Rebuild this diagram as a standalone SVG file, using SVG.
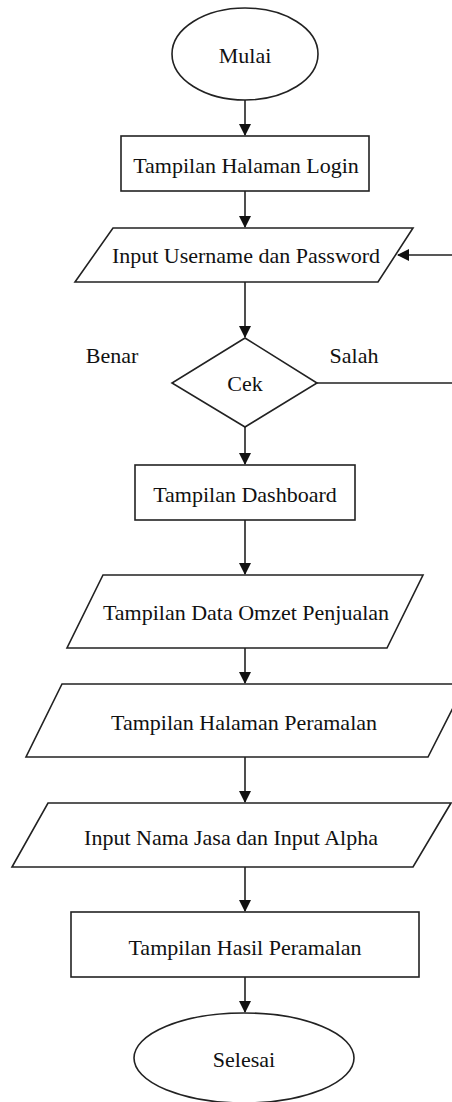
<svg xmlns="http://www.w3.org/2000/svg" width="452" height="1102" viewBox="0 0 452 1102">
<style>
.s{fill:#fff;stroke:#222;stroke-width:1.6}
.t{font-family:"Liberation Serif","Times New Roman","DejaVu Serif",serif;font-size:22px;fill:#111;text-anchor:middle}
.c{fill:none;stroke:#222;stroke-width:1.6}
</style>
<defs>
<marker id="ah" viewBox="0 0 12 12" refX="11" refY="6" markerWidth="12" markerHeight="12" markerUnits="userSpaceOnUse" orient="auto">
<path d="M0,0 L12,6 L0,12 z" fill="#111"/>
</marker>
</defs>
<rect width="452" height="1102" fill="#fff"/>
<g id="connectors">
<line class="c" x1="245" y1="100" x2="245" y2="135" marker-end="url(#ah)"/>
<line class="c" x1="245" y1="191" x2="245" y2="227" marker-end="url(#ah)"/>
<line class="c" x1="245" y1="282" x2="245" y2="337" marker-end="url(#ah)"/>
<line class="c" x1="245" y1="427" x2="245" y2="464" marker-end="url(#ah)"/>
<line class="c" x1="245" y1="520" x2="245" y2="574" marker-end="url(#ah)"/>
<line class="c" x1="245" y1="648" x2="245" y2="683" marker-end="url(#ah)"/>
<line class="c" x1="245" y1="757" x2="245" y2="802" marker-end="url(#ah)"/>
<line class="c" x1="245" y1="867" x2="245" y2="911" marker-end="url(#ah)"/>
<line class="c" x1="245" y1="977" x2="245" y2="1012" marker-end="url(#ah)"/>
<path class="c" d="M317,383 H458 V255 H398" marker-end="url(#ah)"/>
<text class="t" x="112" y="363">Benar</text>
<text class="t" x="354" y="363">Salah</text>
</g>
<g id="mulai">
<ellipse class="s" cx="245" cy="54" rx="73" ry="46"/>
<text class="t" x="245" y="63">Mulai</text>
</g>
<g id="login">
<rect class="s" x="121" y="136" width="248" height="55" stroke-width="2"/>
<text class="t" x="246" y="173">Tampilan Halaman Login</text>
</g>
<g id="input-login">
<polygon class="s" points="113,228 413,228 378,282 75,282"/>
<text class="t" x="246" y="263">Input Username dan Password</text>
</g>
<g id="cek">
<polygon class="s" points="245,338 317,383 245,427 172,383"/>
<text class="t" x="245" y="391">Cek</text>
</g>
<g id="dashboard">
<rect class="s" x="135" y="465" width="220" height="55"/>
<text class="t" x="245" y="502">Tampilan Dashboard</text>
</g>
<g id="omzet">
<polygon class="s" points="103,575 423,575 387,648 67,648"/>
<text class="t" x="246" y="620">Tampilan Data Omzet Penjualan</text>
</g>
<g id="peramalan">
<polygon class="s" points="62,684 465,684 428,757 26,757"/>
<text class="t" x="244" y="730">Tampilan Halaman Peramalan</text>
</g>
<g id="input-jasa">
<polygon class="s" points="48,803 451,803 413,867 12,867"/>
<text class="t" x="231" y="845">Input Nama Jasa dan Input Alpha</text>
</g>
<g id="hasil">
<rect class="s" x="71" y="912" width="348" height="65"/>
<text class="t" x="245" y="955">Tampilan Hasil Peramalan</text>
</g>
<g id="selesai">
<ellipse class="s" cx="244" cy="1058" rx="110" ry="45"/>
<text class="t" x="244" y="1067">Selesai</text>
</g>
</svg>
